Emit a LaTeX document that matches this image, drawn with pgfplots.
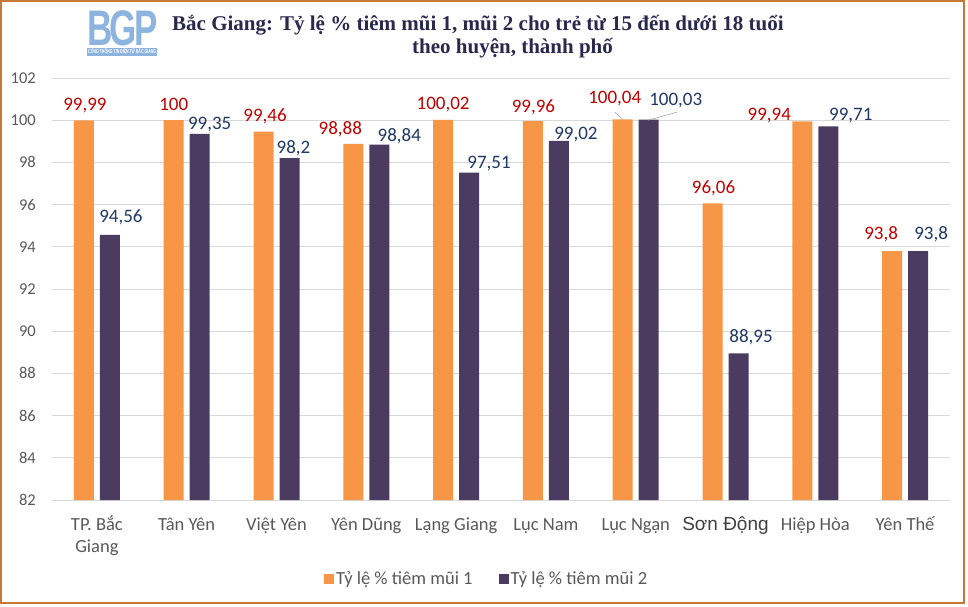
\documentclass[border=0pt]{standalone}
\usepackage{fontspec}
\setmainfont{Carlito}
\newfontfamily\titlefont{Liberation Serif}
\newfontfamily\arialfont{Liberation Sans}
\usepackage{pgfplots}
\pgfplotsset{compat=1.18}
\usepackage{pgfplotstable}
\definecolor{orangebar}{RGB}{247,150,70}
\definecolor{purplebar}{RGB}{76,59,96}
\definecolor{lblred}{RGB}{192,0,0}
\definecolor{lblblue}{RGB}{31,56,100}
\definecolor{titlecol}{RGB}{43,40,78}
\definecolor{framecol}{RGB}{200,120,50}
\definecolor{logoblue}{RGB}{141,180,222}
\definecolor{txtgray}{RGB}{89,89,89}
\definecolor{gridgray}{RGB}{217,217,217}

\pgfplotstableread{
x y dx dy
0 99.99 1 16
1 100 0 16
2 99.46 1.5 16
3 98.88 -13 15.6
4 100.02 0 16.6
5 99.96 0.5 15
6 100.04 -8 22
7 96.06 1 16
8 99.94 -33 7
9 93.8 -11 18
}\tabA

\pgfplotstableread{
x y dx dy
0 94.56 11 18
1 99.35 10 10.7
2 98.2 4 11
3 98.84 20 9
4 97.51 20 10.5
5 99.02 17 7
6 100.03 27 20
7 88.95 12.5 17
8 99.71 22.5 12
9 93.8 13 18
}\tabB

\newcommand{\st}{\rule{0pt}{20pt}}

\begin{document}
\begin{tikzpicture}[x=1pt,y=1pt]
\useasboundingbox (0,0) rectangle (968,606);
\fill[white] (0,0) rectangle (968,606);
\draw[framecol, line width=1.5pt] (1,3) rectangle (964,605);
% logo (one block)
\node[anchor=south west, inner sep=0pt] at (87,550) {\vbox{\offinterlineskip
  \hbox{\color{logoblue}\arialfont\bfseries\fontsize{50}{50}\selectfont\scalebox{0.7}[1]{B\kern-4pt G\kern-4pt P}}
  \kern2pt
  \hbox{\fboxsep=1pt\colorbox{logoblue}{\resizebox{68pt}{5pt}{\color{white}\arialfont\bfseries CỔNG THÔNG TIN ĐIỆN TỬ BẮC GIANG}}}}};
% title
\node[anchor=base west, inner sep=0pt, text=titlecol, font=\titlefont\bfseries\fontsize{21}{21}\selectfont] at (172,575) {Bắc Giang: Tỷ lệ \% tiêm mũi 1, mũi 2 cho trẻ từ 15 đến dưới 18 tuổi};
\node[anchor=base west, inner sep=0pt, text=titlecol, font=\titlefont\bfseries\fontsize{21}{21}\selectfont] at (412,552) {theo huyện, thành phố};

\begin{axis}[
  at={(52pt,106pt)}, anchor=south west,
  scale only axis, width=898pt, height=422pt,
  ybar, bar width=20pt, ybar=6pt,
  xmin=-0.5, xmax=9.5, ymin=82, ymax=102,
  ytick={82,84,...,102},
  xtick={0,...,9},
  xticklabels={{\st TP. Bắc\\Giang},{\st Tân Yên},{\st Việt Yên},{\st Yên Dũng},{\st Lạng Giang},{\st Lục Nam},{\st Lục Ngạn},{\st\arialfont\fontsize{19}{22}\selectfont\color{black!75} Sơn Động},{\st Hiệp Hòa},{\st Yên Thế}},
  major tick length=0pt,
  axis line style={draw=none},
  ymajorgrids, grid style={gridgray, line width=1pt},
  /pgf/number format/assume math mode=true,
  /pgf/number format/use comma,
  /pgf/number format/1000 sep={},
  yticklabel style={inner sep=0pt, anchor=east, xshift=-16pt, text=txtgray, font=\fontsize{16.5}{16.5}\selectfont},
  xticklabel style={inner sep=0pt, anchor=north, yshift=-10pt, align=center, text=txtgray, font=\fontsize{18.5}{22}\selectfont},
  legend style={at={(0.484,-0.187)}, anchor=center, draw=none, fill=none, legend columns=2, text=txtgray, font=\fontsize{18.5}{18.5}\selectfont, /tikz/every even column/.append style={column sep=24pt}},
  clip=true,
]
\addplot[fill=orangebar, draw=none,
  legend image code/.code={\fill[orangebar] (-2pt,-5pt) rectangle (8pt,5pt);},
  nodes near coords,
  visualization depends on={\thisrow{dx} \as \dx},
  visualization depends on={\thisrow{dy} \as \dy},
  every node near coord/.append style={anchor=base, inner sep=0pt, xshift=\dx pt, yshift=\dy pt-6pt, text=lblred, font=\fontsize{19}{19}\selectfont},
] table[x=x,y=y] {\tabA};
\addlegendentry{Tỷ lệ \% tiêm mũi 1}
\addplot[fill=purplebar, draw=none,
  legend image code/.code={\fill[purplebar] (-2pt,-5pt) rectangle (8pt,5pt);},
  nodes near coords,
  visualization depends on={\thisrow{dx} \as \dx},
  visualization depends on={\thisrow{dy} \as \dy},
  every node near coord/.append style={anchor=base, inner sep=0pt, xshift=\dx pt, yshift=\dy pt-6pt, text=lblblue, font=\fontsize{19}{19}\selectfont},
] table[x=x,y=y] {\tabB};
\addlegendentry{Tỷ lệ \% tiêm mũi 2}
\draw[black!35, line width=0.6pt] (axis cs:5.77,100.38) -- (axis cs:5.855,100.04);
\draw[black!35, line width=0.6pt] (axis cs:6.137,100.0) -- (axis cs:6.46,100.38);
\end{axis}
\end{tikzpicture}
\end{document}
